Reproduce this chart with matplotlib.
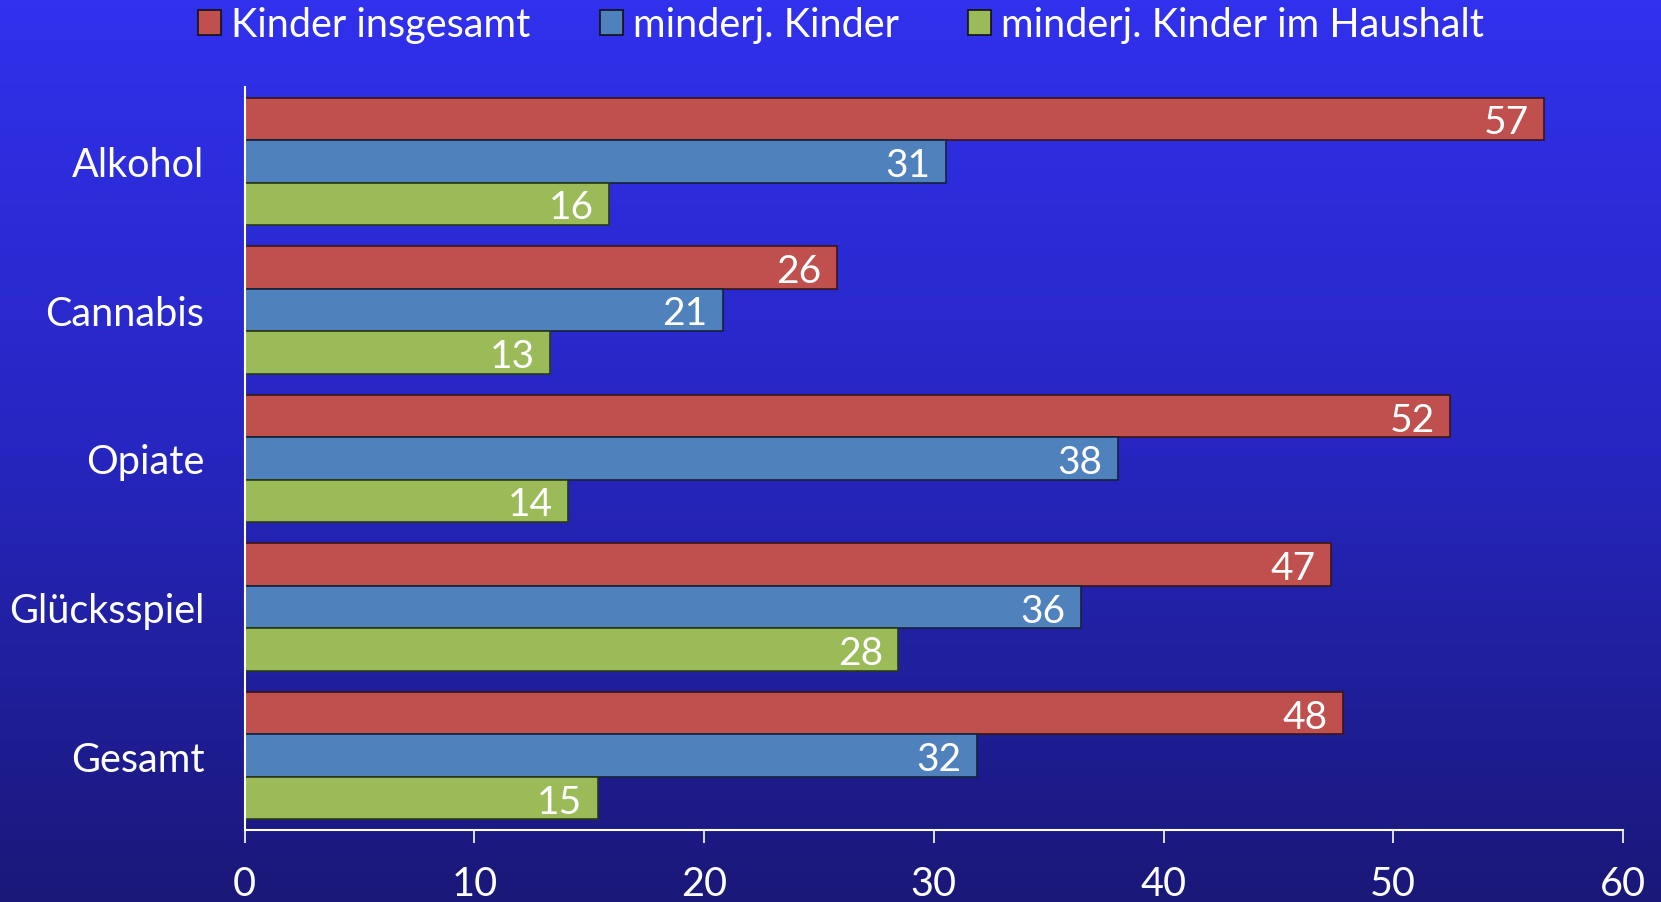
import matplotlib
matplotlib.use("Agg")
import matplotlib.pyplot as plt
import numpy as np
from matplotlib.patches import Patch
from matplotlib.colors import LinearSegmentedColormap

plt.rcParams['font.family'] = ['Lato', 'DejaVu Sans']

categories = ["Alkohol", "Cannabis", "Opiate", "Glücksspiel", "Gesamt"]
series_names = ["Kinder insgesamt", "minderj. Kinder", "minderj. Kinder im Haushalt"]
kinder_insgesamt = [56.55, 25.78, 52.49, 47.28, 47.79]
minderj_kinder = [30.53, 20.8, 38.0, 36.39, 31.87]
minderj_haushalt = [15.87, 13.28, 14.07, 28.46, 15.36]
xticks = [0, 10, 20, 30, 40, 50, 60]

colors = ["#C0504D", "#4F81BD", "#9BBB59"]
edge = ["#3a1515", "#15233a", "#2a3a15"]

W, H = 1661, 903
fig = plt.figure(figsize=(W / 100, H / 100), dpi=100)

# background gradient
bg = fig.add_axes([0, 0, 1, 1], zorder=-10)
cmap = LinearSegmentedColormap.from_list("bg", ["#3131EE", "#2626C0", "#1A1878"])
grad = np.linspace(0, 1, 256).reshape(-1, 1)
bg.imshow(grad, aspect="auto", cmap=cmap, extent=[0, 1, 0, 1])
bg.axis("off")

ax = fig.add_axes([244.7 / W, (H - 831) / H, (1623 - 244.7) / W, (831 - 88) / H])
ax.patch.set_alpha(0)

y = np.arange(len(categories))
h = 0.2857
series = [kinder_insgesamt, minderj_kinder, minderj_haushalt]
offsets = [-h, 0, h]
for vals, off, c, e, name in zip(series, offsets, colors, edge, series_names):
    bars = ax.barh(y + off, vals, height=h, color=c, edgecolor=e, linewidth=1.2, label=name)
    for b, v in zip(bars, vals):
        ax.annotate(f"{v:.0f}", xy=(v, b.get_y() + b.get_height() / 2),
                    xytext=(-11, -2.5), textcoords="offset points",
                    ha="right", va="center", color="white", fontsize=28)

ax.set_xlim(0, 60)
ax.set_ylim(len(categories) - 0.5, -0.5)
ax.set_yticks(y)
ax.set_yticklabels(categories)
ax.set_xticks(xticks)
ax.tick_params(axis="y", length=0, pad=29, labelsize=28.5, labelcolor="white")
ax.tick_params(axis="x", length=9.5, width=1.2, color="white", direction="out",
               pad=16, labelsize=28.5, labelcolor="white")
for s in ["top", "right"]:
    ax.spines[s].set_visible(False)
ax.spines["left"].set_color("white")
ax.spines["bottom"].set_color("white")
ax.spines["left"].set_linewidth(1.5)
ax.spines["bottom"].set_linewidth(1.5)

handles = [Patch(facecolor=c, edgecolor="#111", linewidth=1.2) for c in colors]
leg = fig.legend(handles, series_names, loc="center", bbox_to_anchor=(841 / W, 1 - 26 / H),
                 ncol=3, frameon=False, fontsize=28.5, handlelength=0.58, handleheight=0.6,
                 handletextpad=0.25, columnspacing=1.75, labelcolor="white")

fig.savefig("out.png", dpi=100)
